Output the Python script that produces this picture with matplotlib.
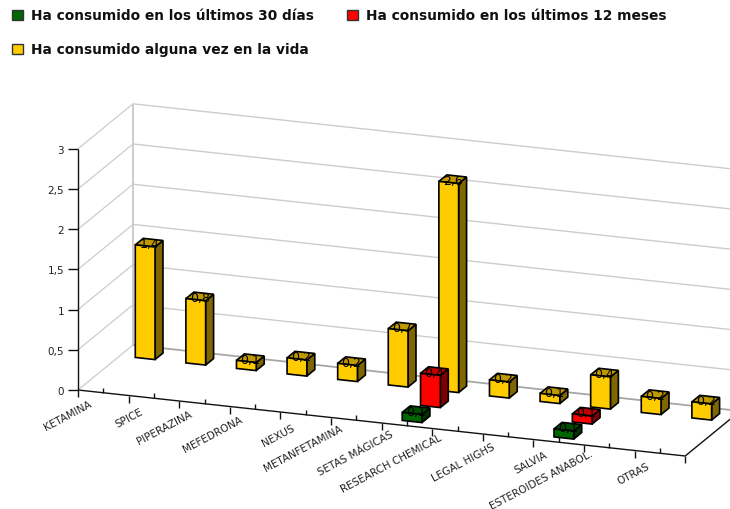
import numpy as np
import matplotlib
matplotlib.use("Agg")
import matplotlib.pyplot as plt
from matplotlib.patches import Polygon, Rectangle

categorias = ['KETAMINA', 'SPICE', 'PIPERAZINA', 'MEFEDRONA', 'NEXUS', 'METANFETAMINA',
              'SETAS MÁGICAS', 'RESEARCH CHEMICAL', 'LEGAL HIGHS', 'SALVIA',
              'ESTEROIDES ANABOL.', 'OTRAS']
ult_30_dias = [np.nan, np.nan, np.nan, np.nan, np.nan, np.nan, 0.1, np.nan, np.nan, 0.1, np.nan, np.nan]
ult_12_meses = [np.nan, np.nan, np.nan, np.nan, np.nan, np.nan, 0.4, np.nan, np.nan, 0.1, np.nan, np.nan]
alguna_vez = [1.4, 0.8, 0.1, 0.2, 0.2, 0.7, 2.6, 0.2, 0.1, 0.4, 0.2, 0.2]
ticks_y = [0, 0.5, 1, 1.5, 2, 2.5, 3]
nombres = ['Ha consumido en los últimos 30 días', 'Ha consumido en los últimos 12 meses',
           'Ha consumido alguna vez en la vida']

# proyeccion oblicua: categoria, profundidad (0-1), valor -> pixel
ORIGEN = np.array([78.0, 391.0])
VEC_CAT = np.array([50.6, 5.5])
VEC_PROF = np.array([55.0, -45.0])
VEC_VAL = np.array([0.0, -80.4])
N = len(categorias)

def pt(c, d, v):
    return ORIGEN + c * VEC_CAT + d * VEC_PROF + v * VEC_VAL

def linea(ax, a, b, color, lw, z=1):
    ax.plot([a[0], b[0]], [a[1], b[1]], color=color, lw=lw, zorder=z, solid_capstyle='butt')

fig = plt.figure(figsize=(7.3, 5.1), dpi=100)
ax = fig.add_axes([0, 0, 1, 1])
ax.set_xlim(0, 730)
ax.set_ylim(510, 0)
ax.set_axis_off()

# paredes y rejilla
GRIS = '#cccccc'
for v in ticks_y:
    linea(ax, pt(0, 0, v), pt(0, 1, v), GRIS, 0.9)
    if v == 0:
        linea(ax, pt(0, 1, v), pt(N, 1, v), '#a6a6a6', 1.3)
    else:
        linea(ax, pt(0, 1, v), pt(N, 1, v), GRIS, 1)
linea(ax, pt(0, 1, 0), pt(0, 1, 3), GRIS, 1.4)

# ejes
NEGRO = '#111111'
linea(ax, pt(0, 0, 0), pt(0, 0, 3), NEGRO, 1, 2)
linea(ax, pt(0, 0, 0), pt(N, 0, 0), NEGRO, 1, 2)
linea(ax, pt(N, 0, 0), pt(N, 1, 0), NEGRO, 1, 2)
for v in ticks_y:
    p = pt(0, 0, v)
    linea(ax, p, p + [-10, 0], NEGRO, 1, 2)
    ax.text(p[0] - 14, p[1] + 1, f'{v:g}'.replace('.', ','), ha='right', va='center',
            fontsize=7.5, color='#222222')
for i in range(N + 1):
    p = pt(i, 0, 0)
    linea(ax, p, p + [0, 7], NEGRO, 1, 2)
    if i < N:
        p = pt(i + 0.5, 0, 0)
        linea(ax, p, p + [0, -5], NEGRO, 1, 2)
        n = len(categorias[i])
        q = p + [-9.5 - 0.4 * n, 15 - 0.6 * n]
        ax.text(q[0], q[1], categorias[i], rotation=28, rotation_mode='anchor', ha='right', va='center',
                fontsize=7.5, color='#222222')

# barras, de atras hacia adelante
ANCHO = 0.195
FONDO = 0.0725
series = [
    (alguna_vez, 5 / 6, '#ffcc00', '#bf9900', '#806600'),
    (ult_12_meses, 3 / 6, '#ff0000', '#bf0000', '#800000'),
    (ult_30_dias, 1 / 6, '#006600', '#004d00', '#003300'),
]
z = 3
for vals, d, frente, arriba, lado in series:
    for i, v in enumerate(vals):
        if np.isnan(v):
            continue
        c = i + 0.5
        cara_f = [pt(c - ANCHO, d - FONDO, 0), pt(c + ANCHO, d - FONDO, 0),
                  pt(c + ANCHO, d - FONDO, v), pt(c - ANCHO, d - FONDO, v)]
        cara_l = [pt(c + ANCHO, d - FONDO, 0), pt(c + ANCHO, d + FONDO, 0),
                  pt(c + ANCHO, d + FONDO, v), pt(c + ANCHO, d - FONDO, v)]
        cara_a = [pt(c - ANCHO, d - FONDO, v), pt(c + ANCHO, d - FONDO, v),
                  pt(c + ANCHO, d + FONDO, v), pt(c - ANCHO, d + FONDO, v)]
        for cara, col in [(cara_l, lado), (cara_a, arriba), (cara_f, frente)]:
            ax.add_patch(Polygon(cara, closed=True, facecolor=col, edgecolor='black', lw=1.2, zorder=z))
        t = pt(c, d, v)
        ax.text(t[0], t[1] + 1, f'{v:g}'.replace('.', ','), ha='center', va='center',
                fontsize=9, color='black', zorder=z + 1)
        z += 2

# leyenda
filas = [(12, 16, '#006600'), (347, 16, '#ff0000'), (12, 50, '#ffcc00')]
for (x, y, col), nombre in zip(filas, nombres):
    ax.add_patch(Rectangle((x, y - 5), 11, 10, facecolor=col, edgecolor='#333333', lw=1))
    ax.text(x + 19, y, nombre, ha='left', va='center', fontsize=9.9, fontweight='bold',
            family='DejaVu Sans', color='#111111')

fig.savefig('out.png', dpi=100)
